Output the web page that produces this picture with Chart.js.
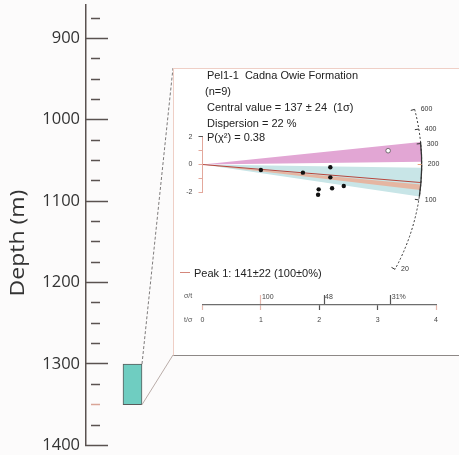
<!DOCTYPE html>
<html>
<head>
<meta charset="utf-8">
<script src="https://cdn.jsdelivr.net/npm/chart.js@4.4.1/dist/chart.umd.min.js"></script>
<style>
  html, body { margin: 0; padding: 0; background: #fcfbfb; width: 459px; height: 455px; overflow: hidden; }
  #depth { position: absolute; left: 0; top: 0; }
  #inset { position: absolute; left: 173px; top: 68px; width: 300px; height: 288px; box-sizing: border-box;
           border-top: 1px solid #efcfc6; border-left: 1px solid #efcfc6; border-bottom: 1px solid #8d8886; background: #fff; }
  #radial { position: absolute; left: 174px; top: 69px; }
  .t { position: absolute; font-family: "Liberation Sans", Arial, sans-serif; font-size: 11px; color: #222;
       white-space: pre; line-height: 12px; }
  .s { font-size: 7px; color: #555; line-height: 8px; }
  #peakLine { position: absolute; left: 180px; top: 272px; width: 10px; height: 0; border-top: 1.5px solid #d4877b; }
</style>
</head>
<body>
<canvas id="depth" width="459" height="455"></canvas>
<div id="inset"></div>
<canvas id="radial" width="285" height="285"></canvas>
<div id="peakLine"></div>
<div id="labels"></div>
<script>
// ---- depth column ----
const depthMin = 859;
const depthMax = 1400;
const depthStep = 25;          // minor tick spacing (m)
const depthLabelStep = 100;    // labelled ticks (m)
const samples = ['Pel1-1'];
const sampleTop = [1300];
const sampleBase = [1350];

// ---- radial plot of single-grain ages ----
const sampleName = 'Pel1-1';
const formation = 'Cadna Owie Formation';
const grainCount = 9;
const centralAge = 137, centralErr = 24;
const dispersionPct = 22;
const pChi2 = 0.38;
const peakAge = 141, peakErr = 22, peakPct = 100, peakPctErr = 0;
const refAge = 200;                                   // age of the horizontal radius
const grainPrecision = [1.00, 1.72, 2.19, 2.19, 1.99, 1.98, 2.22, 2.42];
const grainZ = [-0.40, -0.59, -0.20, -0.93, -1.80, -2.19, -1.72, -1.56];
const outlierPrecision = [3.18];
const outlierZ = [1.00];
const arcAges = [20, 100, 200, 300, 400, 600];
const bandLow = [211, 107, 122];
const bandHigh = [310, 188, 136];
const zTicks = [-2, -1, 0, 1, 2];
const precisionTicks = [0, 1, 2, 3, 4];
const relErrTicks = [100, 48, 31];                    // sigma/t in percent

// ---- styles / layout ----
const bandColors = ['rgb(226,166,212)', 'rgb(200,229,231)', 'rgb(229,182,162)'];
const bandOrder = [1, 2, 0];
const ARC_R = 219.2;      // arc radius, px
const Z_PX = 13.8;        // px per standardised-estimate unit
const PLOT_H = 236;       // height of the radial plot area, px
const ZERO_Y = 95.5;      // px from top of plot area to z = 0
const zMax = ZERO_Y / Z_PX;
const zMin = -(PLOT_H - ZERO_Y) / Z_PX;
const INSET_LEFT = 173, INSET_TOP = 68, INSET_BOTTOM = 355;

// keep label overhang from shrinking the plot area
const noOverhang = s => { s.paddingTop = 0; s.paddingBottom = 0; };

const depthDecor = {
  id: 'depthDecor',
  afterDatasetsDraw(chart) {
    const ctx = chart.ctx;
    const bar = chart.getDatasetMeta(0).data[0];
    const right = bar.x + bar.width / 2;
    const yTop = Math.min(bar.y, bar.base), yBot = Math.max(bar.y, bar.base);
    ctx.save();
    ctx.lineWidth = 1;
    ctx.strokeStyle = '#7d7a7a';
    ctx.setLineDash([3, 2]);
    ctx.beginPath(); ctx.moveTo(right, yTop); ctx.lineTo(INSET_LEFT, INSET_TOP); ctx.stroke();
    ctx.setLineDash([]);
    ctx.strokeStyle = '#b9aca8';
    ctx.beginPath(); ctx.moveTo(right, yBot); ctx.lineTo(INSET_LEFT, INSET_BOTTOM); ctx.stroke();
    // axis title
    ctx.translate(18, 243);
    ctx.rotate(-Math.PI / 2);
    ctx.scale(1.15, 1);
    ctx.font = '20px "Open Sans"';
    ctx.fillStyle = '#333';
    ctx.textAlign = 'center';
    ctx.textBaseline = 'middle';
    ctx.fillText('Depth (m)', 0, 0);
    ctx.restore();
  }
};

new Chart(document.getElementById('depth'), {
  type: 'bar',
  data: {
    labels: samples,
    datasets: [{
      data: sampleTop.map((t, i) => [t, sampleBase[i]]),
      backgroundColor: '#6fcdc1',
      borderColor: '#5a5a5a',
      borderWidth: 1,
      borderSkipped: false,
      barThickness: 19
    }]
  },
  options: {
    responsive: false,
    animation: false,
    events: [],
    layout: { autoPadding: false, padding: { left: 0, right: 280, top: 5, bottom: 9.6 } },
    plugins: { legend: { display: false }, tooltip: { enabled: false } },
    scales: {
      x: { type: 'category', display: false },
      y: {
        reverse: true,
        min: depthMin,
        max: depthMax,
        afterBuildTicks: s => {
          const t = [];
          for (let v = Math.ceil(depthMin / depthStep) * depthStep; v <= depthMax; v += depthStep) t.push({ value: v });
          s.ticks = t;
        },
        afterFit: s => { s.width = 86; noOverhang(s); },
        border: { display: true, color: '#5a5250', width: 1.5 },
        grid: {
          drawOnChartArea: false,
          tickLength: -22,
          tickWidth: 1.5,
          tickColor: c => (c.tick && c.tick.value === sampleBase[0]) ? '#d9a597' : '#5a5250',
          tickBorderDash: c => (c.tick && c.tick.value % depthLabelStep === 0) ? [] : [0, 8, 9, 100]
        },
        ticks: {
          autoSkip: false,
          padding: 28,
          color: '#333',
          font: { family: 'Open Sans', size: 16.5 },
          callback: v => (v % depthLabelStep === 0 ? String(v) : '')
        }
      }
    }
  },
  plugins: [depthDecor]
});

const radialDecor = {
  id: 'radialDecor',
  beforeDatasetsDraw(chart) {
    const ctx = chart.ctx;
    const xs = chart.scales.x, ys = chart.scales.y;
    const ox = xs.getPixelForValue(0), oy = ys.getPixelForValue(0);
    const kx = xs.getPixelForValue(1) - ox, ky = oy - ys.getPixelForValue(1);
    const ang = t => Math.atan2(-ky * Math.log(t / refAge), kx);
    const pt = (t, r) => [ox + r * Math.cos(ang(t)), oy + r * Math.sin(ang(t))];
    ctx.save();
    // age bands
    bandOrder.forEach(i => {
      ctx.beginPath();
      ctx.moveTo(ox, oy);
      ctx.arc(ox, oy, ARC_R, ang(bandLow[i]), ang(bandHigh[i]), true);
      ctx.closePath();
      ctx.fillStyle = bandColors[i];
      ctx.fill();
    });
    // peak age radius
    const pk = pt(peakAge, ARC_R);
    ctx.strokeStyle = '#b8463c';
    ctx.lineWidth = 1;
    ctx.beginPath(); ctx.moveTo(ox, oy); ctx.lineTo(pk[0], pk[1]); ctx.stroke();
    // age scale arc: dashed overall, solid over the band range
    const aMin = Math.min(...arcAges), aMax = Math.max(...arcAges);
    ctx.strokeStyle = '#333';
    ctx.setLineDash([2, 2]);
    ctx.beginPath(); ctx.arc(ox, oy, ARC_R, ang(aMax), ang(aMin), false); ctx.stroke();
    ctx.setLineDash([]);
    ctx.lineWidth = 1.3;
    ctx.beginPath(); ctx.arc(ox, oy, ARC_R, ang(Math.max(...bandHigh)), ang(Math.min(...bandLow)), false); ctx.stroke();
    ctx.lineWidth = 1;
    ctx.font = '7px "Liberation Sans", Arial, sans-serif';
    ctx.textAlign = 'left';
    ctx.textBaseline = 'middle';
    arcAges.forEach(t => {
      const a = pt(t, ARC_R - 4), b = pt(t, ARC_R);
      ctx.strokeStyle = t === refAge ? '#e8a27a' : '#333';
      ctx.beginPath(); ctx.moveTo(a[0], a[1]); ctx.lineTo(b[0], b[1]); ctx.stroke();
      ctx.fillStyle = '#333';
      ctx.fillText(String(t), b[0] + 6, b[1]);
    });
    ctx.restore();
  }
};

new Chart(document.getElementById('radial'), {
  type: 'scatter',
  data: {
    datasets: [
      {
        data: grainPrecision.map((x, i) => ({ x, y: grainZ[i] })),
        backgroundColor: '#111', borderWidth: 0, pointRadius: 2.2
      },
      {
        data: outlierPrecision.map((x, i) => ({ x, y: outlierZ[i] })),
        backgroundColor: '#fff', borderColor: '#555', borderWidth: 0.8, pointRadius: 2.3
      },
      {
        type: 'line',
        data: [{ x: 0, y: zTicks[0] }, { x: 0, y: zTicks[zTicks.length - 1] }],
        borderColor: '#e3a89c', borderWidth: 1, pointRadius: 0, clip: false
      }
    ]
  },
  options: {
    responsive: false,
    animation: false,
    events: [],
    layout: { autoPadding: false, padding: { left: 0, right: 23, top: 0, bottom: 0 } },
    plugins: { legend: { display: false }, tooltip: { enabled: false } },
    scales: {
      x: {
        type: 'linear', min: 0, max: 4, position: 'bottom',
        afterBuildTicks: s => { s.ticks = precisionTicks.map(v => ({ value: v })); },
        afterFit: s => { s.height = 285 - PLOT_H; s.paddingLeft = 0; s.paddingRight = 0; },
        border: { display: true, color: '#6e6e6e', width: 1.2 },
        grid: {
          drawOnChartArea: false, tickLength: 5, tickWidth: 1.2,
          tickColor: c => (c.tick && (c.tick.value === 2 || c.tick.value === 3)) ? '#555' : '#e6b8ae'
        },
        ticks: { autoSkip: false, maxRotation: 0, padding: 6, color: '#444',
                 font: { family: 'Liberation Sans', size: 7 } }
      },
      x2: {
        type: 'linear', axis: 'x', min: 0, max: 4, position: { y: zMin },
        afterBuildTicks: s => { s.ticks = relErrTicks.map(p => ({ value: 100 / p })); },
        afterFit: s => { s.paddingLeft = 0; s.paddingRight = 0; },
        border: { display: false },
        grid: {
          drawOnChartArea: false, tickLength: -10, tickWidth: 1.2,
          tickColor: c => c.index === 0 ? '#e6b8ae' : '#555'
        },
        ticks: {
          autoSkip: false, maxRotation: 0, align: 'start', labelOffset: 1, padding: -2.5, color: '#444',
          font: { family: 'Liberation Sans', size: 7 },
          callback: (v, i) => relErrTicks[i] + (i === relErrTicks.length - 1 ? '%' : '')
        }
      },
      y: {
        type: 'linear', min: zMin, max: zMax, position: 'left',
        afterBuildTicks: s => { s.ticks = zTicks.map(v => ({ value: v })); },
        afterFit: s => { s.width = 28.5; noOverhang(s); },
        border: { display: false },
        grid: {
          drawOnChartArea: false, tickLength: 4, tickWidth: 1,
          tickColor: c => (c.tick && c.tick.value === zTicks[zTicks.length - 1]) ? '#555' : '#e3a89c'
        },
        ticks: { autoSkip: false, padding: 6, color: '#444', font: { family: 'Liberation Sans', size: 7 },
                 callback: v => (v % 2 === 0 ? String(v) : '') }
      }
    }
  },
  plugins: [radialDecor]
});

// ---- text annotations ----
const texts = [
  [`${sampleName}  ${formation}`, 207, 75, 't'],
  [`(n=${grainCount})`, 205, 91, 't'],
  [`Central value = ${centralAge} ± ${centralErr}  (1σ)`, 207, 107, 't'],
  [`Dispersion = ${dispersionPct} %`, 207, 123, 't'],
  [`P(χ²) = ${pChi2}`, 207, 137, 't'],
  [`Peak 1: ${peakAge}±${peakErr} (${peakPct}±${peakPctErr}%)`, 194, 273, 't'],
  ['σ/t', 184, 296, 't s'],
  ['t/σ', 184, 320, 't s']
];
const box = document.getElementById('labels');
texts.forEach(([txt, x, y, cls]) => {
  const d = document.createElement('div');
  d.className = cls;
  d.textContent = txt;
  const lh = cls.includes('s') ? 8 : 12;
  d.style.left = x + 'px';
  d.style.top = (y - lh / 2) + 'px';
  box.appendChild(d);
});
</script>
</body>
</html>
